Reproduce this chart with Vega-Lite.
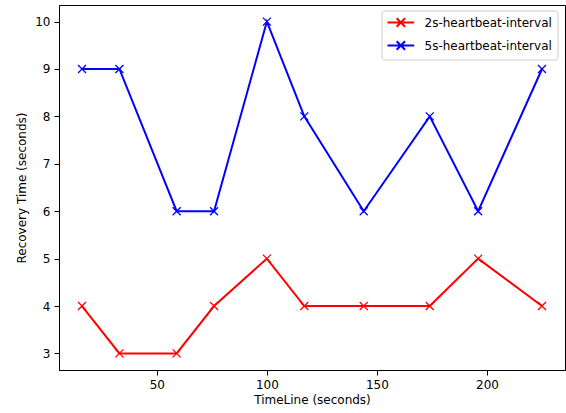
{
  "$schema": "https://vega.github.io/schema/vega-lite/v6.json",
  "width": 506,
  "height": 365,
  "autosize": {"type": "none"},
  "padding": {"left": 59, "top": 5, "right": 1, "bottom": 43},
  "background": "white",
  "config": {
    "view": {"stroke": "black", "strokeWidth": 1},
    "font": "DejaVu Sans",
    "axis": {
      "grid": false,
      "domainColor": "black",
      "domainWidth": 1,
      "tickColor": "black",
      "tickWidth": 1,
      "tickSize": 5,
      "labelFont": "DejaVu Sans",
      "labelFontSize": 12,
      "labelColor": "black",
      "labelPadding": 4,
      "titleFont": "DejaVu Sans",
      "titleFontSize": 12,
      "titleFontWeight": "normal",
      "titleColor": "black"
    }
  },
  "data": {
    "values": [
      {"t": 16, "recovery": 4, "series": "2s-heartbeat-interval"},
      {"t": 33, "recovery": 3, "series": "2s-heartbeat-interval"},
      {"t": 59, "recovery": 3, "series": "2s-heartbeat-interval"},
      {"t": 76, "recovery": 4, "series": "2s-heartbeat-interval"},
      {"t": 100, "recovery": 5, "series": "2s-heartbeat-interval"},
      {"t": 117, "recovery": 4, "series": "2s-heartbeat-interval"},
      {"t": 144, "recovery": 4, "series": "2s-heartbeat-interval"},
      {"t": 174, "recovery": 4, "series": "2s-heartbeat-interval"},
      {"t": 196, "recovery": 5, "series": "2s-heartbeat-interval"},
      {"t": 225, "recovery": 4, "series": "2s-heartbeat-interval"},
      {"t": 16, "recovery": 9, "series": "5s-heartbeat-interval"},
      {"t": 33, "recovery": 9, "series": "5s-heartbeat-interval"},
      {"t": 59, "recovery": 6, "series": "5s-heartbeat-interval"},
      {"t": 76, "recovery": 6, "series": "5s-heartbeat-interval"},
      {"t": 100, "recovery": 10, "series": "5s-heartbeat-interval"},
      {"t": 117, "recovery": 8, "series": "5s-heartbeat-interval"},
      {"t": 144, "recovery": 6, "series": "5s-heartbeat-interval"},
      {"t": 174, "recovery": 8, "series": "5s-heartbeat-interval"},
      {"t": 196, "recovery": 6, "series": "5s-heartbeat-interval"},
      {"t": 225, "recovery": 9, "series": "5s-heartbeat-interval"}
    ]
  },
  "encoding": {
    "x": {
      "field": "t",
      "type": "quantitative",
      "scale": {"domain": [5.55, 235.45], "nice": false, "zero": false},
      "axis": {"values": [50, 100, 150, 200], "title": "TimeLine (seconds)", "titlePadding": 4}
    },
    "y": {
      "field": "recovery",
      "type": "quantitative",
      "scale": {"domain": [2.65, 10.35], "nice": false, "zero": false},
      "axis": {"values": [3, 4, 5, 6, 7, 8, 9, 10], "title": "Recovery Time (seconds)", "titlePadding": 6}
    },
    "color": {
      "field": "series",
      "type": "nominal",
      "scale": {"domain": ["2s-heartbeat-interval", "5s-heartbeat-interval"], "range": ["#ff0000", "#0000ff"]},
      "legend": {
        "orient": "none",
        "legendX": 322.5,
        "legendY": 5.5,
        "title": null,
        "symbolType": "M-1,0H3.45M0.525,-0.7L1.925,0.7M0.525,0.7L1.925,-0.7",
        "symbolSize": 144,
        "symbolStrokeWidth": 2,
        "symbolFillColor": "transparent",
        "labelFont": "DejaVu Sans",
        "labelFontSize": 12,
        "labelColor": "black",
        "strokeColor": "#cccccc",
        "fillColor": "white",
        "padding": 5,
        "cornerRadius": 3,
        "rowPadding": 5,
        "labelOffset": 24
      }
    }
  },
  "layer": [
    {"mark": {"type": "line", "strokeWidth": 2}},
    {"mark": {"type": "point", "shape": "M-1,-1L1,1M-1,1L1,-1", "filled": false, "size": 64, "strokeWidth": 1.3, "opacity": 1}}
  ]
}
